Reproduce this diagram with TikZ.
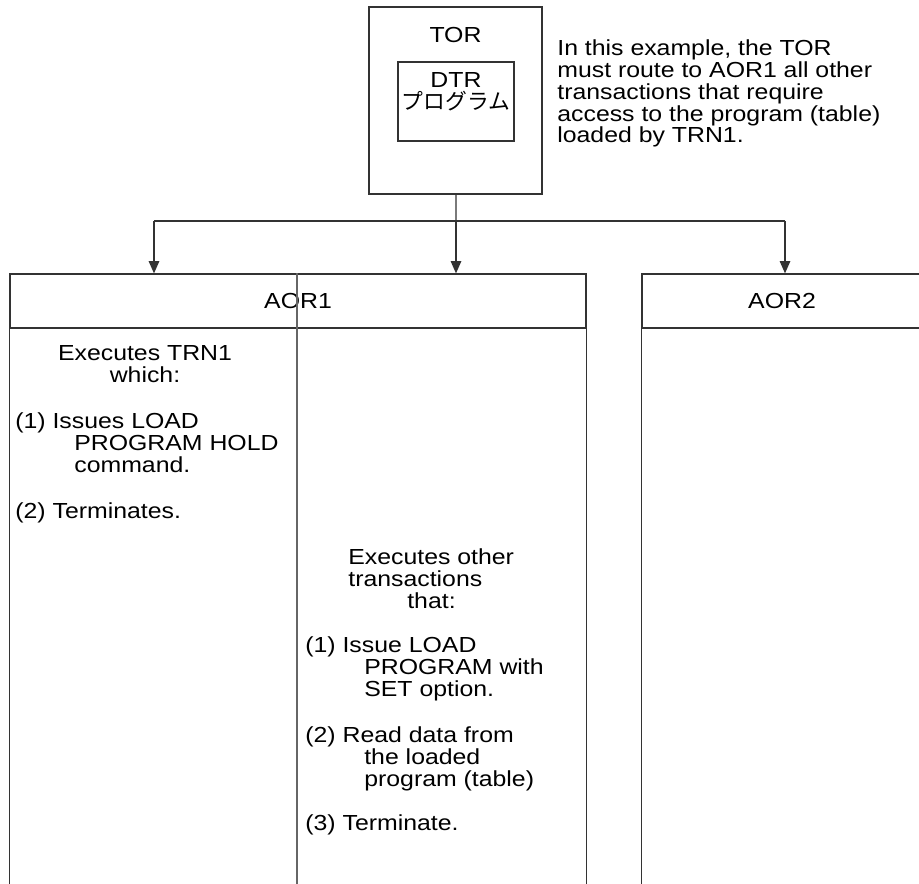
\documentclass[tikz,border=0pt]{standalone}
\usepackage{fontspec}
\setmainfont{Liberation Sans}[FakeStretch=1.14]
\newfontfamily\jpfont{Noto Sans CJK JP}
\usetikzlibrary{positioning, arrows.meta, calc}

\begin{document}
\begin{tikzpicture}[x=0.02cm, y=-0.02cm,
  every node/.style={font=\fontsize{12.4}{12.5}\selectfont, inner sep=0pt},
  box/.style={draw=black!80, line width=0.7pt},
  flow/.style={draw=black!80, line width=0.7pt},
  tip/.style={-{Triangle[width=6pt,length=7pt]}},
  para/.style={align=left, anchor=north west}]

  \useasboundingbox (0,0) rectangle (919,884);

  % TOR and its program
  \node[box, minimum width=3.46cm, minimum height=3.74cm] (tor) at (455.5,100.5) {};
  \node (torlbl) at (455.5,35) {TOR};
  \node[box, minimum width=2.32cm, minimum height=1.58cm] (dtr) at (456,101.5) {};
  \node[align=center] (dtrlbl) at (456,92) {DTR\\{\jpfont プログラム}};
  \node[para] (note) at (557,39) {In this example, the TOR\\must route to AOR1 all other\\transactions that require\\access to the program (table)\\loaded by TRN1.};

  % AOR regions
  \node[box, minimum width=11.52cm, minimum height=1.08cm] (aor1) at (298,301) {AOR1};
  \node[box, minimum width=5.6cm, minimum height=1.08cm] (aor2) at (782,301) {AOR2};
  \coordinate (bot) at (0,884);
  \coordinate (colsplit) at (297,884);
  \foreach \a in {aor1.south west, aor1.south east, aor2.south west, aor2.south east}
    \draw[box] (\a) -- (\a |- bot);
  \draw[box, draw=black!60] (colsplit |- aor1.north) -- (colsplit);

  % routing
  \coordinate (hub) at (456,221);
  \coordinate (leftend) at (154,221);
  \coordinate (rightend) at (785,221);
  \draw[flow] (tor) -- (hub);
  \draw[flow] (leftend) -- (rightend);
  \foreach \c/\n in {leftend/aor1, hub/aor1, rightend/aor2}
    \draw[flow, tip] (\c) -- (\c |- \n.north);

  % TRN1 column
  \node[align=center] (trn) at (145,364) {Executes TRN1\\which:};
  \node[para] (trna) at (15,412) {(1) Issues LOAD\\\hspace*{1.18cm}PROGRAM HOLD\\\hspace*{1.18cm}command.};
  \node[para] (trnb) at (15,502) {(2) Terminates.};

  % other transactions column
  \node[para] (other) at (348,548) {Executes other\\transactions\\\hspace*{1.18cm}that:};
  \node[para] (otha) at (305,636) {(1) Issue LOAD\\\hspace*{1.18cm}PROGRAM with\\\hspace*{1.18cm}SET option.};
  \node[para] (othb) at (305,726) {(2) Read data from\\\hspace*{1.18cm}the loaded\\\hspace*{1.18cm}program (table)};
  \node[para] (othc) at (305,814) {(3) Terminate.};
\end{tikzpicture}
\end{document}
